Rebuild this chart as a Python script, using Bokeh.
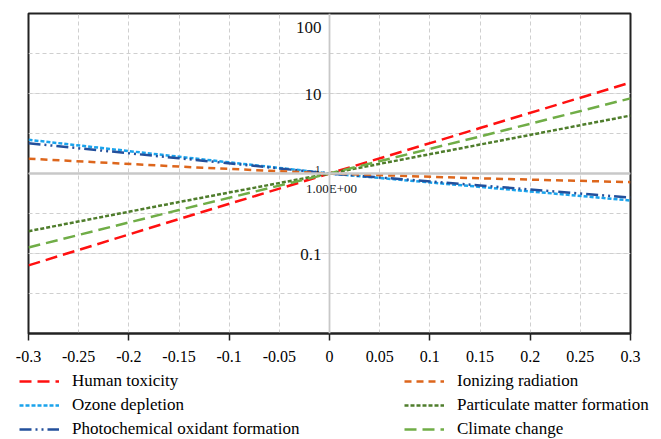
from bokeh.plotting import figure
from bokeh.layouts import column
from bokeh.models import FixedTicker, Grid, Span, Legend, LegendItem
from bokeh.embed import file_html
from bokeh.resources import INLINE
from bokeh.core.properties import value

# ---- data ----
x_vals = [-0.3, -0.15, 0.0, 0.15, 0.3]
human_toxicity = [0.071, 0.27, 1.0, 3.7, 13.7]
ozone_depletion = [2.64, 1.62, 1.0, 0.68, 0.46]
photochemical = [2.39, 1.55, 1.0, 0.71, 0.50]
ionizing_radiation = [1.53, 1.22, 1.0, 0.87, 0.78]
particulate_matter = [0.19, 0.44, 1.0, 2.3, 5.3]
climate_change = [0.119, 0.35, 1.0, 2.9, 8.7]

xtick_values = [round(-0.3 + 0.05 * i, 2) for i in range(13)]
xtick_labels = ["-0.3", "-0.25", "-0.2", "-0.15", "-0.1", "-0.05", "0",
                "0.05", "0.1", "0.15", "0.2", "0.25", "0.3"]
ytick_values = [10.0, 1.0, 0.1]
ytick_labels = ["10", "1", "0.1"]
top_label = "100"
center_label = "1.00E+00"

FONT = "Liberation Serif"

p = figure(frame_width=602, frame_height=320,
           min_border_left=28, min_border_right=31, min_border_top=13, min_border_bottom=38,
           x_range=(-0.3, 0.3), y_range=(0.01, 100), y_axis_type="log",
           y_axis_location=None, output_backend="svg", toolbar_location=None)
p.background_fill_color = "white"
p.border_fill_color = "white"
p.outline_line_color = "#222222"
p.outline_line_width = 2

# x axis
p.xaxis.ticker = FixedTicker(ticks=xtick_values,
                             minor_ticks=[round(-0.3 + 0.1 * i, 2) for i in range(7)])
p.xaxis.major_label_overrides = {v: l for v, l in zip(xtick_values, xtick_labels)}
p.xaxis.major_tick_out = 0
p.xaxis.major_tick_in = 0
p.xaxis.minor_tick_out = 7
p.xaxis.minor_tick_in = 0
p.xaxis.minor_tick_line_color = "#222222"
p.xaxis.minor_tick_line_width = 1.5
p.xaxis.axis_line_color = "#222222"
p.xaxis.axis_line_width = 2
p.xaxis.major_label_text_font = FONT
p.xaxis.major_label_text_font_size = "16px"
p.xaxis.major_label_text_color = "black"
p.xaxis.major_label_standoff = 10

# grids
p.xgrid.ticker = FixedTicker(ticks=xtick_values)
p.xgrid.grid_line_color = "#cfcfcf"
p.xgrid.grid_line_dash = "4 3"
p.xgrid.grid_line_width = 1
ygrid = Grid(dimension=1, ticker=FixedTicker(ticks=[10 ** (k / 2) for k in range(-3, 4)]),
             grid_line_color="#cfcfcf", grid_line_dash="4 3", grid_line_width=1)
p.add_layout(ygrid)
p.add_layout(Span(location=0, dimension="height", line_color="#c8c8c8", line_width=1.8))
p.add_layout(Span(location=1, dimension="width", line_color="#c8c8c8", line_width=2.5))

# series
series = [
    ("Human toxicity", human_toxicity, "#ff1010", "12 6"),
    ("Ozone depletion", ozone_depletion, "#1aa3ec", "4 2"),
    ("Photochemical oxidant formation", photochemical, "#23509c", "12 4 2 4 2 4"),
    ("Ionizing radiation", ionizing_radiation, "#dd661c", "7 5"),
    ("Particulate matter formation", particulate_matter, "#4f7d2c", "4 2"),
    ("Climate change", climate_change, "#70ad47", "12 6"),
]
for name, vals, color, dash in series:
    p.line(x_vals, vals, line_color=color, line_width=2.5, line_dash=dash)

# axis-value labels drawn at x = 0
p.text(x=[0.0, 0.0], y=[10.0, 0.1], text=[ytick_labels[0], ytick_labels[2]],
       text_font=value(FONT), text_font_size="17px", text_align="right",
       text_baseline="middle", x_offset=-8, y_offset=1, text_color="#111111")
p.text(x=[0.0], y=[1.0], text=[ytick_labels[1]], text_font=value(FONT),
       text_font_size="11px", text_align="right", text_baseline="bottom",
       x_offset=-9, y_offset=-1, text_color="#111111")
p.text(x=[0.0], y=[100.0], text=[top_label], text_font=value(FONT), text_font_size="17px",
       text_align="right", text_baseline="middle", x_offset=-8, y_offset=14,
       text_color="#111111")
p.text(x=[0.0], y=[1.0], text=[center_label], text_font=value(FONT), text_font_size="13px",
       text_align="center", text_baseline="top", x_offset=2, y_offset=7,
       text_color="#111111")

# legend panel below the chart (legend-only figure; swatch renderers hold no points)
leg = figure(frame_width=661, frame_height=68, min_border=0,
             x_axis_location=None, y_axis_location=None,
             output_backend="svg", toolbar_location=None)
leg.outline_line_color = None
leg.xgrid.visible = False
leg.ygrid.visible = False
leg.background_fill_color = "white"
leg.border_fill_color = "white"
items = []
nan = float("nan")
for name, vals, color, dash in series:
    r = leg.line(x=[nan], y=[nan], line_color=color, line_width=2.5, line_dash=dash)
    items.append(LegendItem(label=name, renderers=[r]))

for cols, loc in ((items[:3], (19, 0)), (items[3:], (404, 0))):
    lg = Legend(items=cols, location=loc, orientation="vertical",
                glyph_width=40, glyph_height=16, label_height=16, spacing=4,
                label_standoff=13, padding=0, margin=0,
                border_line_color=None, background_fill_alpha=0,
                label_text_font=FONT, label_text_font_size="17px",
                label_text_color="black")
    leg.add_layout(lg, "center")

open("out.html", "w").write(file_html(column(p, leg, spacing=0), INLINE))
